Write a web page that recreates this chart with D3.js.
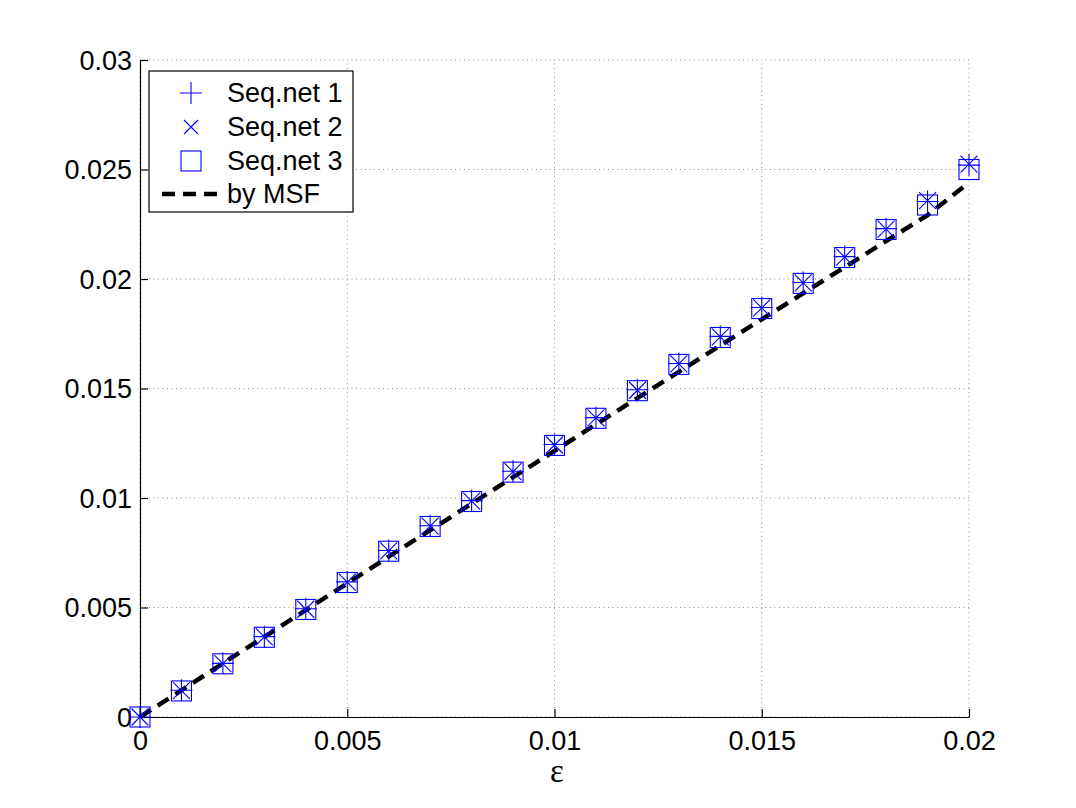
<!DOCTYPE html>
<html><head><meta charset="utf-8">
<script src="https://cdn.jsdelivr.net/npm/d3@7"></script>
<style>body{margin:0;background:#fff}svg{display:block}text{font-family:"Liberation Sans",Arial,sans-serif}</style>
</head><body>
<svg id="c" width="1076" height="808"></svg>
<script>
const eps = [0,0.001,0.002,0.003,0.004,0.005,0.006,0.007,0.008,0.009,0.010,0.011,0.012,0.013,0.014,0.015,0.016,0.017,0.018,0.019,0.020];
const seq1 = [0,0.00122,0.00245,0.00367,0.00494,0.00617,0.00760,0.00873,0.00988,0.01122,0.01244,0.01367,0.01494,0.01614,0.01738,0.01870,0.01984,0.02102,0.02230,0.02354,0.02520];
const seq2 = [0,0.00120,0.00244,0.00366,0.00492,0.00616,0.00759,0.00872,0.00986,0.01120,0.01242,0.01366,0.01492,0.01612,0.01736,0.01868,0.01982,0.02100,0.02228,0.02358,0.02525];
const seq3 = [0,0.00119,0.00243,0.00364,0.00491,0.00614,0.00757,0.00870,0.00984,0.01118,0.01240,0.01364,0.01490,0.01610,0.01733,0.01865,0.01980,0.02098,0.02226,0.02338,0.02500];
const msf  = [0,0.00122,0.00245,0.00366,0.00488,0.00610,0.00732,0.00853,0.00974,0.01095,0.01215,0.01336,0.01456,0.01576,0.01696,0.01816,0.01935,0.02054,0.02173,0.02292,0.02440];
const xTicks = [0,0.005,0.01,0.015,0.02];
const xTickLabels = ["0","0.005","0.01","0.015","0.02"];
const yTicks = [0,0.005,0.01,0.015,0.02,0.025,0.03];
const yTickLabels = ["0","0.005","0.01","0.015","0.02","0.025","0.03"];
const legendLabels = ["Seq.net 1","Seq.net 2","Seq.net 3","by MSF"];

const svg = d3.select("#c");
const x = d3.scaleLinear().domain([0,0.02]).range([140,969]);
const y = d3.scaleLinear().domain([0,0.03]).range([717,60]);
const blue = "#0000ff";
const fs = 27;

// grid
const g = svg.append("g");
g.selectAll(".gx").data(xTicks).join("line")
  .attr("x1",d=>x(d)).attr("x2",d=>x(d)).attr("y1",y(0)).attr("y2",y(0.03))
  .attr("stroke","#8c8c8c").attr("stroke-width",1).attr("stroke-dasharray","1,3.5");
g.selectAll(".gy").data(yTicks).join("line")
  .attr("y1",d=>y(d)).attr("y2",d=>y(d)).attr("x1",x(0)).attr("x2",x(0.02))
  .attr("stroke","#8c8c8c").attr("stroke-width",1).attr("stroke-dasharray","1,3.5");

// axes
const xAxis = d3.axisBottom(x).tickValues(xTicks).tickFormat((d,i)=>xTickLabels[i]).tickSizeInner(-8).tickSizeOuter(0).tickPadding(14);
const yAxis = d3.axisLeft(y).tickValues(yTicks).tickFormat((d,i)=>yTickLabels[i]).tickSizeInner(-8).tickSizeOuter(0).tickPadding(8);
const ax = svg.append("g").attr("transform",`translate(0,${y(0)})`).call(xAxis);
const ay = svg.append("g").attr("transform",`translate(${x(0)},0)`).call(yAxis);
[ax,ay].forEach(a=>{
  a.select(".domain").attr("stroke","#000").attr("stroke-width",1.2);
  a.selectAll(".tick line").attr("stroke","#000").attr("stroke-width",1.2);
  a.selectAll("text").attr("fill","#000").style("font-size",fs+"px").style("font-family","'Liberation Sans',Arial,sans-serif");
});
ay.selectAll("text").attr("dy","0.35em");
ax.selectAll("text").attr("dy","0.71em");

svg.append("text").attr("x",557).attr("y",782).attr("text-anchor","middle")
  .style("font-size","33px").style("font-family","'Liberation Serif','DejaVu Serif',serif").text("ε");

// MSF dashed line
const line = d3.line().x((d,i)=>x(eps[i])).y(d=>y(d));
svg.append("path").datum(msf).attr("d",line).attr("fill","none")
  .attr("stroke","#000").attr("stroke-width",4.5).attr("stroke-dasharray","13,8");

// markers
function plus(sel,cx,cy,r){sel.append("path").attr("d",`M${cx-r},${cy}H${cx+r}M${cx},${cy-r}V${cy+r}`).attr("stroke",blue).attr("stroke-width",1.1).attr("fill","none");}
function cross(sel,cx,cy,r){sel.append("path").attr("d",`M${cx-r},${cy-r}L${cx+r},${cy+r}M${cx-r},${cy+r}L${cx+r},${cy-r}`).attr("stroke",blue).attr("stroke-width",1.1).attr("fill","none");}
function square(sel,cx,cy,r){sel.append("rect").attr("x",cx-r).attr("y",cy-r).attr("width",2*r).attr("height",2*r).attr("stroke",blue).attr("stroke-width",1.1).attr("fill","none");}
const m = svg.append("g");
eps.forEach((e,i)=>{
  plus(m,x(e),y(seq1[i]),11);
  cross(m,x(e),y(seq2[i]),8.5);
  square(m,x(e),y(seq3[i]),10);
});

// legend
const lg = svg.append("g");
lg.append("rect").attr("x",149).attr("y",71).attr("width",204).attr("height",141)
  .attr("fill","#fff").attr("stroke","#000").attr("stroke-width",1.2);
const rowY = [93,127,161,194];
const mx = 191;
plus(lg,mx,rowY[0],11);
cross(lg,mx,rowY[1],7);
square(lg,mx,rowY[2],10);
lg.append("line").attr("x1",162).attr("x2",221).attr("y1",rowY[3]).attr("y2",rowY[3])
  .attr("stroke","#000").attr("stroke-width",4.5).attr("stroke-dasharray","13,8");
lg.selectAll(".lt").data(legendLabels).join("text")
  .attr("x",227).attr("y",(d,i)=>rowY[i]).attr("dy","0.35em")
  .style("font-size",fs+"px").attr("fill","#000").text(d=>d);
</script>
</body></html>
